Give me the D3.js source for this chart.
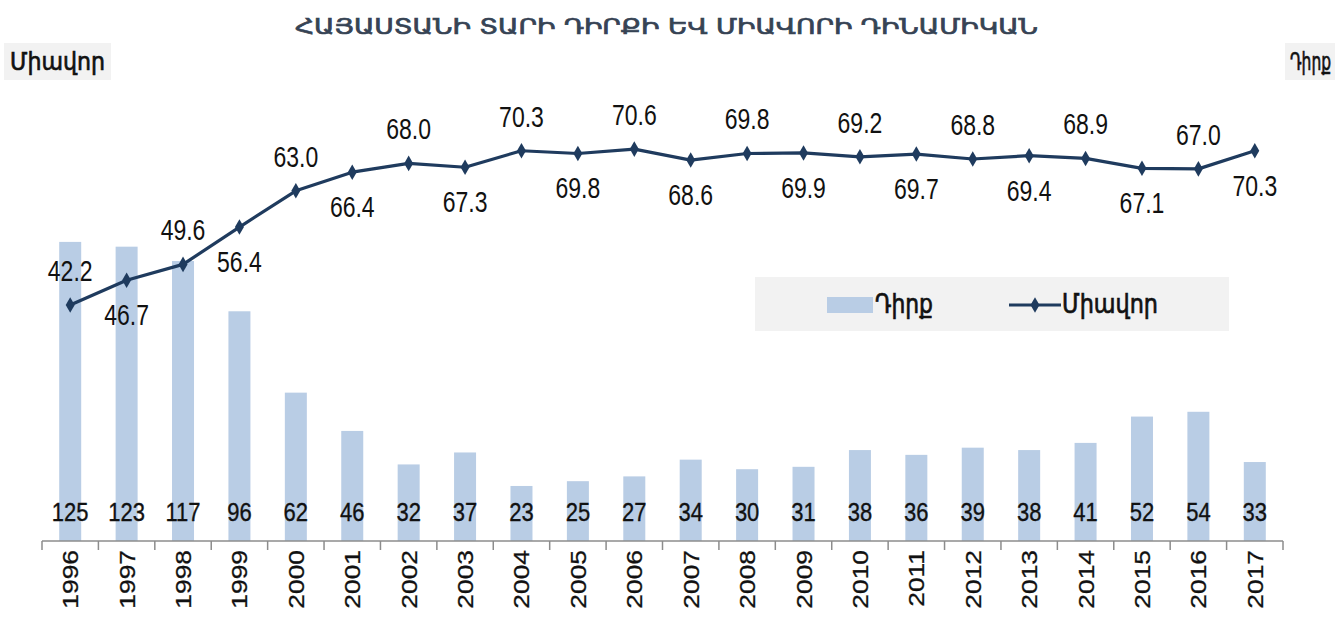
<!DOCTYPE html>
<html>
<head>
<meta charset="utf-8">
<script src="https://cdn.jsdelivr.net/npm/d3@7"></script>
<style>
  body { margin: 0; background: #fff; }
  svg { display: block; }
</style>
</head>
<body>
<div id="chart"></div>
<script>
const w = 1335;
const h = 619;

const title = 'ՀԱՅԱՍՏԱՆԻ ՏԱՐԻ ԴԻՐՔԻ ԵՎ ՄԻԱՎՈՐԻ ԴԻՆԱՄԻԿԱՆ';
const barName = 'Դիրք';
const lineName = 'Միավոր';

const years = ['1996', '1997', '1998', '1999', '2000', '2001', '2002', '2003', '2004', '2005', '2006',
  '2007', '2008', '2009', '2010', '2011', '2012', '2013', '2014', '2015', '2016', '2017'];
const rank = [125, 123, 117, 96, 62, 46, 32, 37, 23, 25, 27, 34, 30, 31, 38, 36, 39, 38, 41, 52, 54, 33];
const points = [42.2, 46.7, 49.6, 56.4, 63.0, 66.4, 68.0, 67.3, 70.3, 69.8, 70.6, 68.6, 69.8, 69.9,
  69.2, 69.7, 68.8, 69.4, 68.9, 67.1, 67.0, 70.3];

const barColor = '#b9cde5';
const lineColor = '#1f3b5e';
const armFont = '"DejaVu Sans Condensed", "DejaVu Sans", sans-serif';
const numFont = '"Liberation Sans", Arial, sans-serif';
const narrowFont = '"Liberation Sans Narrow", "Liberation Sans", Arial, sans-serif';

const svg = d3.select('#chart')
  .append('svg')
  .attr('width', w)
  .attr('height', h);

const x = d3.scaleBand()
  .domain(years)
  .range([42, 1283]);

const yBar = d3.scaleLinear()
  .domain([0, 140])
  .range([541, 206]);

const yLine = d3.scaleLinear()
  .domain([0, 80])
  .range([536.7, 97.5]);

const cx = (d) => x(d) + x.bandwidth() / 2;
const barW = x.bandwidth() * 0.39;

// armenian text, stretched a bit upward like the original
armText = (sel, tx, ty, size, len, sy, col) => sel.append('text')
  .attr('transform', 'translate(' + tx + ',' + ty + ') scale(1,' + sy + ')')
  .attr('textLength', len)
  .attr('lengthAdjust', 'spacingAndGlyphs')
  .style('font-family', armFont)
  .style('font-size', size + 'px')
  .style('fill', col)
  .style('stroke', col)
  .style('stroke-width', 0.5);

armText(svg, 295, 34, 16, 743, 1.3, '#364354').text(title);

svg.append('rect')
  .attr('x', 4).attr('y', 43)
  .attr('width', 107).attr('height', 37)
  .style('fill', '#f2f2f2');

armText(svg, 10, 70, 19, 95, 1.3, '#111').text(lineName);

svg.append('rect')
  .attr('x', 1285).attr('y', 43)
  .attr('width', 50).attr('height', 37)
  .style('fill', '#f2f2f2');

armText(svg, 1290, 70, 19, 41, 1.3, '#111').text(barName);

// bars
svg.selectAll('.bar')
  .data(rank)
  .enter()
  .append('rect')
  .attr('class', 'bar')
  .attr('x', (d, i) => cx(years[i]) - barW / 2)
  .attr('y', (d) => yBar(d))
  .attr('width', barW)
  .attr('height', (d) => yBar(0) - yBar(d))
  .style('fill', barColor);

svg.selectAll('.barlabel')
  .data(rank)
  .enter()
  .append('text')
  .attr('class', 'barlabel')
  .attr('transform', (d, i) => 'translate(' + cx(years[i]) + ',521) scale(1,1.2)')
  .attr('text-anchor', 'middle')
  .style('font-family', narrowFont)
  .style('font-size', '22px')
  .style('fill', '#111')
  .style('stroke', '#111')
  .style('stroke-width', 0.3)
  .text((d) => d);

// x axis
const axis = svg.append('g')
  .attr('transform', 'translate(0,541)');

axis.append('line')
  .attr('x1', 42).attr('x2', 1283)
  .attr('y1', 0).attr('y2', 0)
  .style('stroke', '#8c8c8c')
  .style('stroke-width', 1.5);

axis.selectAll('.tick')
  .data(years.concat(['end']))
  .enter()
  .append('line')
  .attr('class', 'tick')
  .attr('x1', (d, i) => i < years.length ? x(d) : x.range()[1])
  .attr('x2', (d, i) => i < years.length ? x(d) : x.range()[1])
  .attr('y1', 0).attr('y2', 9)
  .style('stroke', '#8c8c8c')
  .style('stroke-width', 1.5);

axis.selectAll('.year')
  .data(years)
  .enter()
  .append('text')
  .attr('class', 'year')
  .attr('transform', (d) => 'translate(' + (cx(d) + 8) + ',9) rotate(-90) scale(1.2,1)')
  .attr('text-anchor', 'end')
  .style('font-family', numFont)
  .style('font-size', '22px')
  .style('fill', '#111')
  .style('stroke', '#111')
  .style('stroke-width', 0.3)
  .text((d) => d);

// line
const line = d3.line()
  .x((d, i) => cx(years[i]))
  .y((d) => yLine(d));

svg.append('path')
  .datum(points)
  .attr('d', line)
  .style('fill', 'none')
  .style('stroke', lineColor)
  .style('stroke-width', 3.2)
  .style('stroke-linejoin', 'round');

const diamond = d3.symbol().type(d3.symbolDiamond).size(70);

svg.selectAll('.marker')
  .data(points)
  .enter()
  .append('path')
  .attr('class', 'marker')
  .attr('d', diamond)
  .attr('transform', (d, i) => 'translate(' + cx(years[i]) + ',' + yLine(d) + ')')
  .style('fill', lineColor);

svg.selectAll('.pointlabel')
  .data(points)
  .enter()
  .append('text')
  .attr('class', 'pointlabel')
  .attr('transform', (d, i) => {
    const ty = yLine(d) + (i % 2 === 0 ? -24 : 45);
    return 'translate(' + cx(years[i]) + ',' + ty + ') scale(1,1.3)';
  })
  .attr('text-anchor', 'middle')
  .style('font-family', numFont)
  .style('font-size', '23px')
  .style('fill', '#111')
  .text((d) => d.toFixed(1));

// legend
const leg = svg.append('g');

leg.append('rect')
  .attr('x', 755).attr('y', 277)
  .attr('width', 474).attr('height', 54)
  .style('fill', '#f2f2f2');

leg.append('rect')
  .attr('x', 827).attr('y', 297)
  .attr('width', 46).attr('height', 16)
  .style('fill', barColor);

armText(leg, 875, 313, 20, 58, 1.35, '#111').text(barName);

leg.append('line')
  .attr('x1', 1009).attr('x2', 1061)
  .attr('y1', 305).attr('y2', 305)
  .style('stroke', lineColor)
  .style('stroke-width', 3);

leg.append('path')
  .attr('d', diamond)
  .attr('transform', 'translate(1035,305)')
  .style('fill', lineColor);

armText(leg, 1062, 313, 20, 96, 1.35, '#111').text(lineName);
</script>
</body>
</html>
